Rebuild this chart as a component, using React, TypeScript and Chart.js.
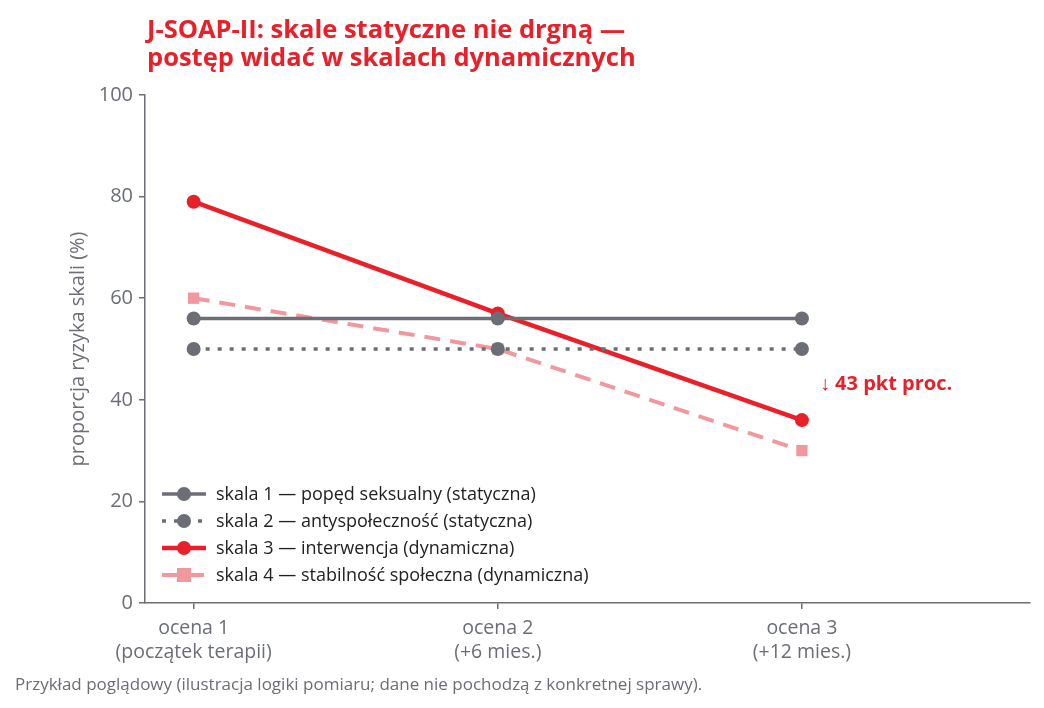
import React, { useRef, useEffect } from 'react';
import { Chart, registerables } from 'chart.js';

Chart.register(...registerables);

const categories = [['ocena 1', '(początek terapii)'], ['ocena 2', '(+6 mies.)'], ['ocena 3', '(+12 mies.)']];
const yTicks = [0, 20, 40, 60, 80, 100];
const scale1 = [56, 56, 56];
const scale2 = [50, 50, 50];
const scale3 = [79, 57, 36];
const scale4 = [60, 50, 30];
const seriesNames = [
  'skala 1 — popęd seksualny (statyczna)',
  'skala 2 — antyspołeczność (statyczna)',
  'skala 3 — interwencja (dynamiczna)',
  'skala 4 — stabilność społeczna (dynamiczna)',
];
const annotationText = '↓ 43 pkt proc.';
const annotationValue = 43;

const GRAY = '#6b6e75';
const RED = '#e8202a';
const PINK = '#f0989d';
const FONT = '"Open Sans", "Noto Sans", sans-serif';

const toPoints = (vals: number[]) => vals.map((y, i) => ({ x: i, y }));

// legend with line + marker samples, drawn inside the plot
const legendPlugin = {
  id: 'lineLegend',
  afterDraw(chart: any) {
    const { ctx, chartArea } = chart;
    ctx.save();
    chart.data.datasets.forEach((ds: any, i: number) => {
      const y = chartArea.bottom - 109 + i * 27;
      const x0 = chartArea.left + 17;
      const x1 = x0 + 44;
      ctx.strokeStyle = ds.borderColor;
      ctx.lineWidth = ds.borderWidth;
      ctx.setLineDash(ds.borderDash || []);
      ctx.beginPath();
      ctx.moveTo(x0, y);
      ctx.lineTo(x1, y);
      ctx.stroke();
      ctx.setLineDash([]);
      ctx.fillStyle = ds.pointBackgroundColor;
      const cx = (x0 + x1) / 2;
      if (ds.pointStyle === 'rect') {
        ctx.fillRect(cx - 7, y - 7, 14, 14);
      } else {
        ctx.beginPath();
        ctx.arc(cx, y, 7, 0, Math.PI * 2);
        ctx.fill();
      }
      ctx.fillStyle = '#222';
      ctx.font = `18px ${FONT}`;
      ctx.textBaseline = 'middle';
      ctx.fillText(ds.label, x1 + 10, y + 1);
    });
    ctx.restore();
  },
};

const annotationPlugin = {
  id: 'dropNote',
  afterDraw(chart: any) {
    const { ctx, scales } = chart;
    ctx.save();
    ctx.fillStyle = RED;
    ctx.font = `bold 20px ${FONT}`;
    ctx.textBaseline = 'middle';
    ctx.fillText(annotationText, scales.x.getPixelForValue(2) + 18, scales.y.getPixelForValue(annotationValue));
    ctx.restore();
  },
};

const App: React.FC = () => {
  const canvasRef = useRef<HTMLCanvasElement | null>(null);

  useEffect(() => {
    if (!canvasRef.current) return;
    const chart = new Chart(canvasRef.current, {
      type: 'line',
      data: {
        datasets: [
          {
            label: seriesNames[0],
            data: toPoints(scale1),
            borderColor: GRAY,
            backgroundColor: GRAY,
            pointBackgroundColor: GRAY,
            borderWidth: 3.5,
            pointRadius: 7,
            pointBorderWidth: 0,
            pointStyle: 'circle',
          },
          {
            label: seriesNames[1],
            data: toPoints(scale2),
            borderColor: GRAY,
            backgroundColor: GRAY,
            pointBackgroundColor: GRAY,
            borderWidth: 3.5,
            borderDash: [4, 8],
            pointRadius: 7,
            pointBorderWidth: 0,
            pointStyle: 'circle',
          },
          {
            label: seriesNames[2],
            data: toPoints(scale3),
            borderColor: RED,
            backgroundColor: RED,
            pointBackgroundColor: RED,
            borderWidth: 4.5,
            pointRadius: 7,
            pointBorderWidth: 0,
            pointStyle: 'circle',
          },
          {
            label: seriesNames[3],
            data: toPoints(scale4),
            borderColor: PINK,
            backgroundColor: PINK,
            pointBackgroundColor: PINK,
            borderWidth: 4,
            borderDash: [16, 10],
            pointRadius: 8,
            pointBorderWidth: 0,
            pointStyle: 'rect',
          },
        ],
      },
      options: {
        responsive: false,
        animation: false,
        layout: { padding: { top: 95, right: 14, left: 0, bottom: 0 } },
        plugins: {
          legend: { display: false },
          tooltip: { enabled: false },
        },
        scales: {
          x: {
            type: 'linear',
            min: -0.16,
            max: 2.75,
            afterFit(scale: any) {
              scale.height = 105;
            },
            afterBuildTicks(scale: any) {
              scale.ticks = categories.map((_, i) => ({ value: i }));
            },
            grid: { display: true, drawOnChartArea: false, drawTicks: true, tickLength: 6, color: GRAY, lineWidth: 1.5 },
            border: { display: true, color: GRAY, width: 1.5 },
            ticks: {
              color: GRAY,
              font: { family: FONT, size: 19.5 },
              padding: 8,
              maxRotation: 0,
              callback: (v: any) => categories[v as number] ?? '',
            },
          },
          y: {
            min: 0,
            max: 100,
            afterFit(scale: any) {
              scale.width = 145;
            },
            afterBuildTicks(scale: any) {
              scale.ticks = yTicks.map((v) => ({ value: v }));
            },
            grid: { display: true, drawOnChartArea: false, drawTicks: true, tickLength: 6, color: GRAY, lineWidth: 1.5 },
            border: { display: true, color: GRAY, width: 1.5 },
            title: {
              display: true,
              text: 'proporcja ryzyka skali (%)',
              color: GRAY,
              font: { family: FONT, size: 20 },
              padding: { top: 66, bottom: 0 },
            },
            ticks: {
              color: GRAY,
              font: { family: FONT, size: 20 },
              padding: 6,
            },
          },
        },
      },
      plugins: [legendPlugin, annotationPlugin],
    });
    return () => chart.destroy();
  }, []);

  return (
    <div style={{ position: 'absolute', left: 0, top: 0, width: 1044, height: 708, background: '#fff', fontFamily: FONT }}>
      <canvas ref={canvasRef} width={1044} height={708} style={{ position: 'absolute', left: 0, top: 0 }} />
      <div
        style={{
          position: 'absolute',
          left: 147,
          top: 14,
          color: RED,
          fontWeight: 700,
          fontSize: 25.5,
          lineHeight: '28px',
        }}
      >
        J-SOAP-II: skale statyczne nie drgną —<br />
        postęp widać w skalach dynamicznych
      </div>
      <div style={{ position: 'absolute', left: 15, top: 672, color: GRAY, fontSize: 17 }}>
        Przykład poglądowy (ilustracja logiki pomiaru; dane nie pochodzą z konkretnej sprawy).
      </div>
    </div>
  );
};

export default App;
